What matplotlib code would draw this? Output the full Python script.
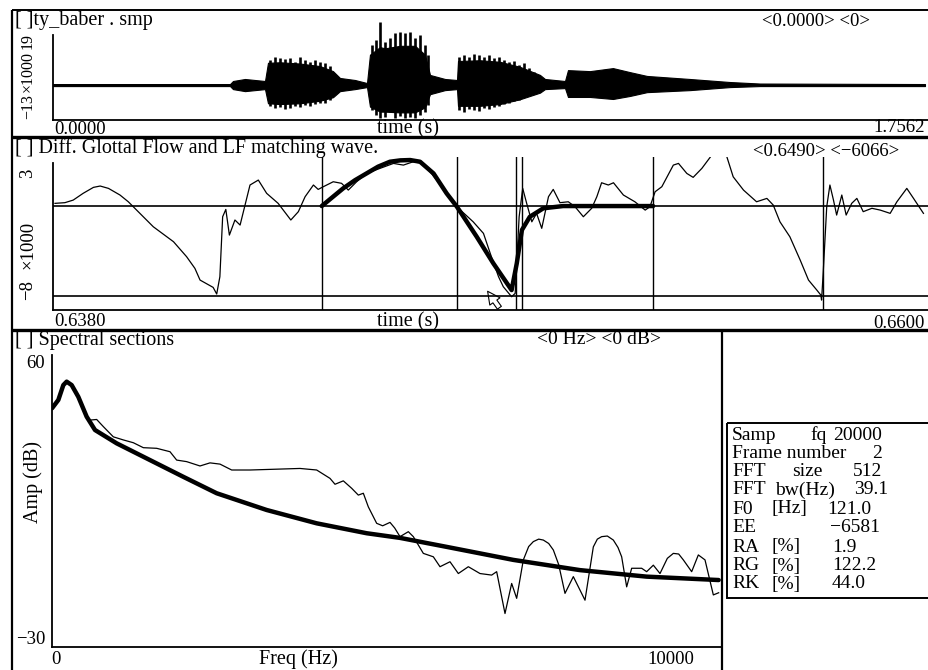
import matplotlib
matplotlib.use("Agg")
import matplotlib.pyplot as plt
from matplotlib.patches import Rectangle

plt.rcParams['font.family'] = ['Liberation Serif', 'DejaVu Serif']

W, H = 929, 670

# --- panel 1: speech file (x1000): dense core envelope + visible pitch spikes ---
wave_t = [0.0, 0.3565, 0.3625, 0.3867, 0.4068, 0.4270, 0.4330, 0.4572, 0.4975,
          0.5377, 0.5639, 0.5780, 0.6082, 0.6324, 0.6384, 0.6586, 0.6686, 0.6989,
          0.7291, 0.7492, 0.7593, 0.7895, 0.8137, 0.8157, 0.8600, 0.9003, 0.9405,
          0.9808, 0.9909, 1.0312, 1.0372, 1.0815, 1.1278, 1.1621, 1.1963, 1.2829,
          1.3635, 1.4239, 1.7562]
wave_hi = [0.4, 0.4, 1.6, 2.4, 2.0, 1.6, 8.8, 9.0, 8.5,
           7.5, 5.5, 2.8, 2.0, 0.8, 12.0, 15.0, 14.5, 15.5,
           15.5, 12.0, 4.0, 2.4, 2.0, 9.5, 9.8, 9.2, 7.2,
           4.0, 2.4, 1.6, 5.9, 5.5, 6.7, 5.1, 3.6, 2.4,
           1.2, 0.6, 0.4]
wave_lo = [-0.4, -0.4, -1.6, -2.4, -2.0, -1.6, -7.2, -7.5, -7.2,
           -6.2, -4.8, -2.4, -1.6, -0.8, -8.5, -10.5, -10.5, -10.8,
           -10.8, -8.8, -3.6, -2.0, -1.6, -8.2, -8.2, -7.5, -5.6,
           -3.0, -1.6, -1.2, -4.7, -4.7, -5.5, -4.3, -2.8, -2.0,
           -0.8, -0.4, -0.4]

spike_t = [0.437, 0.447, 0.457, 0.467, 0.477, 0.487, 0.497, 0.508, 0.518, 0.528,
           0.538, 0.548, 0.558,
           0.642, 0.650, 0.659, 0.669, 0.679, 0.689, 0.699, 0.709, 0.719, 0.729,
           0.739, 0.749, 0.755,
           0.8177, 0.8278, 0.8378, 0.8479, 0.8580, 0.8680, 0.8781, 0.8882, 0.8982,
           0.9083, 0.9184, 0.9284, 0.9385, 0.9486, 0.9587, 0.9687, 0.9788]
spike_top = [9.9, 11.1, 10.7, 10.3, 10.7, 9.1, 11.1, 9.9, 9.1, 9.9,
             9.1, 8.7, 7.5,
             15.8, 17.8, 24.9, 17.0, 18.6, 20.6, 20.9, 20.6, 20.9, 18.6,
             19.8, 15.8, 11.9,
             11.1, 11.9, 11.1, 12.3, 11.9, 11.1, 11.9, 10.7, 11.1,
             9.9, 9.1, 9.5, 7.9, 8.7, 6.7, 5.1, 4.0]
spike_bot = [-8.3, -9.1, -8.7, -9.5, -9.1, -8.3, -8.7, -7.9, -8.3, -7.5,
             -7.1, -7.1, -5.9,
             -9.9, -11.9, -13.0, -12.6, -10.7, -13.0, -12.3, -13.0, -12.6, -13.0,
             -11.9, -10.7, -7.9,
             -9.9, -10.7, -9.5, -9.9, -10.3, -9.1, -9.5, -8.7, -8.3,
             -7.5, -7.1, -6.3, -5.9, -4.7, -4.0, -3.6, -2.8]

# --- panel 2: differentiated glottal flow (ms, x1000) ---
flow_ms = [638.05, 638.30, 638.51, 638.76, 639.02, 639.19, 639.40, 639.69, 639.90,
           640.11, 640.53, 641.04, 641.37, 641.58, 641.71, 642.04, 642.13, 642.21,
           642.28, 642.36, 642.45, 642.59, 642.72, 642.97, 643.18, 643.39, 643.68,
           644.00, 644.19, 644.36, 644.57, 644.69, 644.82, 645.07, 645.28, 645.45,
           645.66, 645.91, 646.25, 646.59, 646.84, 647.09, 647.34, 647.68, 648.02,
           648.23, 648.60, 648.86, 649.03, 649.24, 649.36, 649.57, 649.66, 649.76,
           649.85, 649.95, 650.08, 650.20, 650.33, 650.50, 650.62, 650.79, 651.00,
           651.17, 651.38, 651.59, 651.72, 651.84, 652.01, 652.14, 652.39, 652.68,
           652.94, 653.06, 653.19, 653.36, 653.65, 653.78, 653.99, 654.15, 654.37,
           654.62, 654.75, 654.88, 655.00, 655.16, 655.42, 655.75, 656.01, 656.17,
           656.34, 656.59, 656.85, 657.06, 657.27, 657.37, 657.39, 657.43, 657.52,
           657.60, 657.69, 657.77, 657.90, 658.01, 658.15, 658.28, 658.44, 658.66,
           658.87, 659.12, 659.29, 659.54, 659.71, 659.96]
flow_val = [0.24, 0.30, 0.53, 1.13, 1.66, 1.78, 1.57, 0.98, 0.38,
            -0.36, -1.84, -3.17, -4.50, -5.54, -6.58, -7.23, -7.82, -6.28,
            -0.95, -0.30, -2.58, -1.24, -1.69, 1.87, 2.31, 1.13, 0.24,
            -1.24, -0.50, 0.83, 1.87, 1.48, 1.72, 2.16, 2.02, 1.42,
            2.16, 2.90, 3.35, 3.79, 3.64, 3.94, 3.79, 2.31, 0.83,
            -0.20, -1.40, -2.43, -4.20, -6.28, -7.17, -8.06, -7.76, -0.95,
            1.57, 0.24, -1.40, -0.65, -1.98, 0.83, 1.48, 0.30, 0.38,
            -0.06, -0.95, -0.20, 0.83, 2.07, 1.87, 2.07, 0.98, 0.38,
            -0.36, -0.06, 1.27, 1.72, 3.64, 3.79, 2.90, 2.55, 3.35,
            4.53, 5.30, 5.20, 4.38, 2.60, 1.42, 0.38, 0.68, 0.09,
            -1.40, -2.73, -4.80, -6.58, -7.47, -7.91, -8.36, -5.98, -0.06,
            1.87, 0.53, -0.80, 0.98, -0.80, 0.24, 0.68, -0.50, -0.20,
            -0.36, -0.65, 0.38, 1.57, 0.68, -0.65]

# LF model matched to one period
lf_ms = [644.78, 645.32, 645.62, 645.91, 646.20, 646.50, 646.76, 647.01, 647.26,
         647.60, 647.93, 648.19, 648.69, 649.11, 649.57, 649.70, 649.83, 650.03,
         650.37, 650.87, 653.14]
lf_val = [0.0, 1.57, 2.30, 2.90, 3.50, 3.94, 4.06, 4.09, 3.94,
          2.90, 1.13, -0.06, -2.73, -5.10, -7.47, -5.10, -2.13, -0.95,
          -0.20, 0.0, 0.0]

# timing marks (to, tp, te, ta, tc, next te)
marks_ms = [644.79, 648.19, 649.68, 649.83, 653.14, 657.43]

# --- panel 3: spectra ---
lf_freq = [0, 95, 170, 220, 295, 395, 520, 645, 970, 1470, 1970, 2470, 3220,
           3970, 4720, 5220, 5920, 6920, 7920, 8920, 10000]
lf_db = [45.4, 48.1, 52.9, 54.0, 52.9, 49.1, 42.7, 38.4, 34.1, 28.7, 23.3, 18.0, 12.6,
         8.3, 5.1, 3.6, 0.7, -3.5, -6.8, -8.9, -10.0]

sp_freq = [0, 95, 170, 220, 295, 395, 520, 570, 670, 770, 920, 1070, 1220, 1370,
           1570, 1770, 1870, 2020, 2220, 2370, 2520, 2695, 2970, 3720, 3970, 4170,
           4245, 4370, 4495, 4595, 4670, 4745, 4870, 4960, 5070, 5140, 5220, 5345,
           5420, 5570, 5720, 5820, 5970, 6095, 6245, 6420, 6595, 6670, 6795, 6895,
           6970, 7070, 7150, 7220, 7300, 7370, 7450, 7520, 7600, 7695, 7820, 7995,
           8120, 8180, 8245, 8330, 8420, 8490, 8545, 8620, 8695, 8845, 8920, 9020,
           9120, 9230, 9320, 9400, 9470, 9595, 9695, 9795, 9920, 10000]
sp_db = [45.4, 48.1, 52.9, 54.0, 52.9, 49.1, 42.7, 41.6, 41.8, 39.5, 36.2, 35.2, 34.3, 32.7,
         32.5, 31.4, 28.7, 28.2, 26.8, 27.8, 27.4, 25.5, 25.5, 26.0, 25.5, 22.8,
         20.9, 22.0, 19.6, 17.4, 18.0, 13.6, 8.3, 7.5, 8.6, 6.8, 4.0, 5.6,
         4.0, -1.4, -2.5, -5.7, -4.1, -7.9, -5.7, -7.9, -8.4, -7.3, -20.8, -11.1,
         -15.9, -3.5, 0.8, 2.4, 3.2, 2.9, 1.8, -0.3, -5.0, -14.3, -8.9, -16.5,
         0.7, 3.2, 4.0, 4.2, 2.9, 0.5, -2.5, -12.2, -6.2, -6.2, -7.3, -5.2,
         -7.9, -3.0, -1.4, -1.6, -3.5, -7.3, -1.9, -3.5, -14.8, -14.1]

info_rows = [
    ("Samp", "fq", "20000"),
    ("Frame number", "", "2"),
    ("FFT", "size", "512"),
    ("FFT", "bw(Hz)", "39.1"),
    ("F0", "[Hz]", "121.0"),
    ("EE", "", "\u22126581"),
    ("RA", "[%]", "1.9"),
    ("RG", "[%]", "122.2"),
    ("RK", "[%]", "44.0"),
]

fig = plt.figure(figsize=(W / 100, H / 100), dpi=100)
fig.patch.set_facecolor('white')

bg = fig.add_axes([0, 0, 1, 1])
bg.set_xlim(0, W)
bg.set_ylim(H, 0)
bg.axis('off')


def frame_line(xs, ys, lw=1.6):
    bg.plot(xs, ys, color='black', lw=lw, solid_capstyle='butt')


# window frames
frame_line([12, W], [10, 10], 1.4)
frame_line([12, 12], [10, H])
frame_line([12, W], [137, 137], 2.4)
frame_line([12, W], [330, 330], 2.4)
frame_line([722, 722], [330, H], 1.6)
bg.add_patch(Rectangle((727, 423), 230, 175, fill=False, ec='black', lw=1.4))

FS = 14.5
NS = 13.5
RS = 11.5


def txt(x, y, s, ha='left', size=FS, rot=0):
    bg.text(x, y, s, ha=ha, va='center', fontsize=size, rotation=rot, color='black')


# panel texts
txt(15, 21, "[ ]ty_baber . smp")
txt(762, 21, "<0.0000> <0>", size=NS)
txt(28, 41, "19", ha='center', size=RS, rot=90)
txt(28, 72, "\u00d71000", ha='center', size=RS, rot=90)
txt(28, 107, "\u221213", ha='center', size=RS, rot=90)
txt(54, 129, "0.0000", size=NS)
txt(408, 129, "time (s)", ha='center')
txt(925, 128, "1.7562", ha='right', size=NS)

txt(15, 148, "[ ] Diff. Glottal Flow and LF matching wave.")
txt(753, 151, "<0.6490> <\u22126066>", size=NS)
txt(28, 173, "3", ha='center', size=NS, rot=90)
txt(28, 245, "\u00d71000", ha='center', size=NS, rot=90)
txt(28, 290, "\u22128", ha='center', size=NS, rot=90)
txt(54, 322, "0.6380", size=NS)
txt(408, 322, "time (s)", ha='center')
txt(925, 323, "0.6600", ha='right', size=NS)

txt(15, 340, "[ ] Spectral sections")
txt(537, 340, "<0 Hz> <0 dB>", size=NS + 0.5)
txt(45, 364, "60", ha='right', size=NS)
txt(45, 640, "\u221230", ha='right', size=NS)
txt(33, 482, "Amp (dB)", ha='center', rot=90)
txt(56, 659, "0", ha='center', size=NS)
txt(298, 659, "Freq (Hz)", ha='center')
txt(671, 659, "10000", ha='center', size=NS)

# info box
row_y = [435, 453, 472, 490, 509, 528, 547, 566, 584]
mid_x = {"fq": 810, "size": 792, "bw(Hz)": 775, "[Hz]": 772, "[%]": 772}
for (a, b, c), y in zip(info_rows, row_y):
    txt(732, y, a, size=14)
    if b:
        txt(mid_x[b], y, b, size=14)
    if a in ("Samp", "Frame number", "FFT") and b != "bw(Hz)":
        txt(882, y, c, ha='right', size=14)
    elif a == "EE":
        txt(880, y, c, ha='right', size=14)
    elif b == "bw(Hz)":
        txt(854, y, c, size=14)
    elif a == "F0":
        txt(827, y, c, size=14)
    else:
        txt(832, y, c, size=14)

# mouse cursor
bg.annotate('', xy=(486, 289), xytext=(501, 310),
            arrowprops=dict(arrowstyle='simple,head_width=0.9,head_length=0.9,tail_width=0.35',
                            fc='white', ec='black', lw=0.8))


def panel(x0, y0, x1, y1):
    ax = fig.add_axes([x0 / W, 1 - y1 / H, (x1 - x0) / W, (y1 - y0) / H])
    ax.patch.set_alpha(0)
    ax.spines['top'].set_visible(False)
    ax.spines['right'].set_visible(False)
    for s in ('left', 'bottom'):
        ax.spines[s].set_linewidth(1.3)
    ax.set_xticks([])
    ax.set_yticks([])
    return ax


# panel 1
ax1 = panel(53, 20, W, 120)
ax1.set_xlim(0, 1.7643)
ax1.set_ylim(-13.8, 25.7)
ax1.spines['left'].set_bounds(-13.8, 19.8)
ax1.fill_between(wave_t, wave_lo, wave_hi, color='black', lw=0.8)
ax1.vlines(spike_t, spike_bot, spike_top, color='black', lw=1.9)

# panel 2
ax2 = panel(53, 157, W, 310)
ax2.set_xlim(0.6380, 0.6601)
ax2.set_ylim(-9.24, 4.36)
ax2.spines['left'].set_bounds(-9.24, 3.82)
ax2.axhline(0, color='black', lw=1.2)
ax2.axhline(-8, color='black', lw=1.2)
for m in marks_ms:
    ax2.axvline(m / 1000, color='black', lw=1.0)
ax2.plot([t / 1000 for t in flow_ms], flow_val, color='black', lw=0.9)
ax2.plot([t / 1000 for t in lf_ms], lf_val, color='black', lw=3.2,
         solid_capstyle='round', solid_joinstyle='round')

# panel 3
ax3 = panel(52, 355, 722, 647)
ax3.set_xlim(0, 10050)
ax3.set_ylim(-31.6, 62.6)
ax3.plot(sp_freq, sp_db, color='black', lw=0.9)
ax3.plot(lf_freq, lf_db, color='black', lw=3.2,
         solid_capstyle='round', solid_joinstyle='round')

fig.savefig("out.png", dpi=100, facecolor='white')
